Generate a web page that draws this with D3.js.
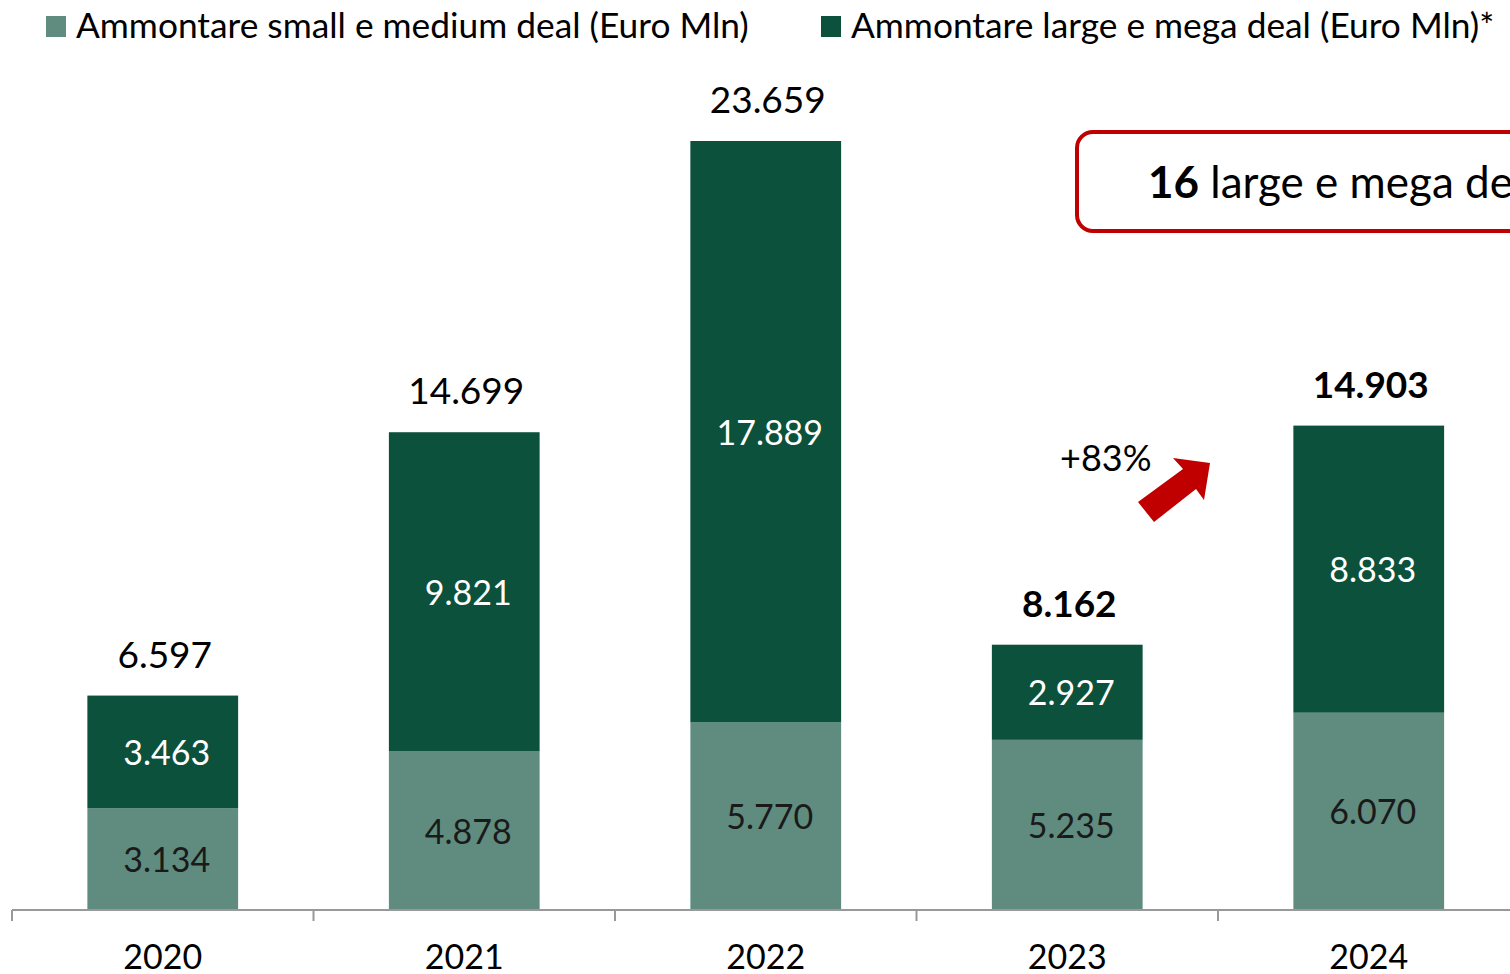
<!DOCTYPE html>
<head>
  <meta charset="utf-8">
  <title>Ammontare deal</title>
  <script src="https://d3js.org/d3.v7.min.js"></script>
  <style>
    body { margin: 0; background: #fff; font-family: 'Lato', sans-serif; }
    svg { display: block; }
  </style>
</head>
<body>
  <div id="my_dataviz"></div>
</body>
<script>

  // data
  var years = ["2020", "2021", "2022", "2023", "2024"];
  var smallMedium = [3134, 4878, 5770, 5235, 6070];
  var largeMega = [3463, 9821, 17889, 2927, 8833];
  var totals = [6597, 14699, 23659, 8162, 14903];
  var boldTotals = ["2023", "2024"];
  var legendLabels = ["Ammontare small e medium deal (Euro Mln)", "Ammontare large e mega deal (Euro Mln)*"];
  var growthLabel = "+83%";

  var W = 1510, H = 974;
  var baseline = 910;
  var light = "#5f8c7f", dark = "#0b513c", red = "#c00000";

  var svg = d3.select("#my_dataviz")
    .append("svg")
    .attr("width", W)
    .attr("height", H);

  // scales
  var x = d3.scaleBand()
    .domain(years)
    .range([12, 12 + 301.5 * 5])
    .paddingInner(0.5)
    .paddingOuter(0.25);
  var y = d3.scaleLinear()
    .domain([0, 23659])
    .range([baseline, 141]);

  var fmt = function (v) { return d3.format(",")(v).replace(/,/g, "."); };

  var rows = years.map(function (yr, i) {
    return { year: yr, small: smallMedium[i], large: largeMega[i], total: totals[i] };
  });

  // bars
  svg.selectAll("rect.small")
    .data(rows)
    .enter()
    .append("rect")
    .attr("class", "small")
    .attr("x", function (d) { return x(d.year); })
    .attr("y", function (d) { return y(d.small); })
    .attr("width", x.bandwidth())
    .attr("height", function (d) { return baseline - y(d.small); })
    .attr("fill", light);

  svg.selectAll("rect.large")
    .data(rows)
    .enter()
    .append("rect")
    .attr("class", "large")
    .attr("x", function (d) { return x(d.year); })
    .attr("y", function (d) { return y(d.small + d.large); })
    .attr("width", x.bandwidth())
    .attr("height", function (d) { return y(d.small) - y(d.small + d.large); })
    .attr("fill", dark);

  // segment labels
  svg.selectAll("text.lsmall")
    .data(rows)
    .enter()
    .append("text")
    .attr("x", function (d) { return x(d.year) + x.bandwidth() / 2 + 4; })
    .attr("y", function (d) { return (y(d.small) + baseline) / 2 + 13; })
    .attr("text-anchor", "middle")
    .style("font-size", "34px")
    .attr("fill", "#1a1a1a")
    .text(function (d) { return fmt(d.small); });

  svg.selectAll("text.llarge")
    .data(rows)
    .enter()
    .append("text")
    .attr("x", function (d) { return x(d.year) + x.bandwidth() / 2 + 4; })
    .attr("y", function (d) { return (y(d.small) + y(d.small + d.large)) / 2 + 13; })
    .attr("text-anchor", "middle")
    .style("font-size", "34px")
    .attr("fill", "#fff")
    .text(function (d) { return fmt(d.large); });

  // totals
  svg.selectAll("text.total")
    .data(rows)
    .enter()
    .append("text")
    .attr("x", function (d) { return x(d.year) + x.bandwidth() / 2 + 2; })
    .attr("y", function (d) { return y(d.total) - 28; })
    .attr("text-anchor", "middle")
    .style("font-size", "37px")
    .style("font-weight", function (d) { return boldTotals.indexOf(d.year) >= 0 ? "bold" : "normal"; })
    .attr("fill", "#000")
    .text(function (d) { return fmt(d.total); });

  // x axis
  var xAxis = svg.append("g")
    .attr("transform", "translate(0," + baseline + ")");
  xAxis.append("line")
    .attr("x1", 12).attr("x2", W)
    .attr("stroke", "#999").attr("stroke-width", 2);
  var step = x.step();
  xAxis.selectAll("line.tick")
    .data(d3.range(6))
    .enter()
    .append("line")
    .attr("x1", function (i) { return 12 + i * step; })
    .attr("x2", function (i) { return 12 + i * step; })
    .attr("y1", 0).attr("y2", 11)
    .attr("stroke", "#999").attr("stroke-width", 2);
  xAxis.selectAll("text")
    .data(years)
    .enter()
    .append("text")
    .attr("x", function (d) { return x(d) + x.bandwidth() / 2; })
    .attr("y", 59)
    .attr("text-anchor", "middle")
    .style("font-size", "34px")
    .attr("fill", "#000")
    .text(function (d) { return d; });

  // legend
  var legend = svg.append("g");
  var legendX = [46, 821];
  [light, dark].forEach(function (c, i) {
    legend.append("rect")
      .attr("x", legendX[i]).attr("y", 16)
      .attr("width", 20).attr("height", 21)
      .attr("fill", c);
    legend.append("text")
      .attr("x", legendX[i] + 30).attr("y", 38)
      .style("font-size", "35.3px")
      .attr("fill", "#000")
      .text(legendLabels[i]);
  });

  // callout box
  svg.append("rect")
    .attr("x", 1077).attr("y", 132)
    .attr("width", 600).attr("height", 99)
    .attr("rx", 16)
    .attr("fill", "none")
    .attr("stroke", red)
    .attr("stroke-width", 4);
  var callout = svg.append("text")
    .attr("x", 1148).attr("y", 198)
    .style("font-size", "44px")
    .attr("fill", "#000");
  callout.append("tspan").style("font-weight", "bold").text("16");
  callout.append("tspan").text(" large e mega deal");

  // growth annotation
  svg.append("text")
    .attr("x", 1060).attr("y", 471)
    .style("font-size", "36px")
    .attr("fill", "#000")
    .text(growthLabel);
  svg.append("path")
    .attr("d", "M1138,502 L1183,469 L1173,458 L1210,463 L1204,500 L1196,489 L1154,522 Z")
    .attr("fill", red);

</script>
